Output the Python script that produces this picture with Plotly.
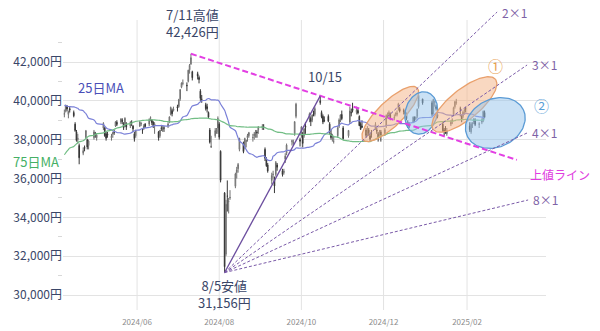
import numpy as np
import pandas as pd
import plotly.graph_objects as go

# ---------------- data ----------------
trading_days = [
    ("2024-04", [8, 9, 10, 11, 12, 15, 16, 17, 18, 19, 22, 23, 24, 25, 26, 30]),
    ("2024-05", [1, 2, 7, 8, 9, 10, 13, 14, 15, 16, 17, 20, 21, 22, 23, 24, 27, 28, 29, 30, 31]),
    ("2024-06", [3, 4, 5, 6, 7, 10, 11, 12, 13, 14, 17, 18, 19, 20, 21, 24, 25, 26, 27, 28]),
    ("2024-07", [1, 2, 3, 4, 5, 8, 9, 10, 11, 12, 16, 17, 18, 19, 22, 23, 24, 25, 26, 29, 30, 31]),
    ("2024-08", [1, 2, 5, 6, 7, 8, 9, 13, 14, 15, 16, 19, 20, 21, 22, 23, 26, 27, 28, 29, 30]),
    ("2024-09", [2, 3, 4, 5, 6, 9, 10, 11, 12, 13, 17, 18, 19, 20, 24, 25, 26, 27, 30]),
    ("2024-10", [1, 2, 3, 4, 7, 8, 9, 10, 11, 15, 16, 17, 18, 21, 22, 23, 24, 25, 28, 29, 30, 31]),
    ("2024-11", [1, 5, 6, 7, 8, 11, 12, 13, 14, 15, 18, 19, 20, 21, 22, 25, 26, 27, 28, 29]),
    ("2024-12", [2, 3, 4, 5, 6, 9, 10, 11, 12, 13, 16, 17, 18, 19, 20, 23, 24, 25, 26, 27, 30]),
    ("2025-01", [6, 7, 8, 9, 10, 14, 15, 16, 17, 20, 21, 22, 23, 24, 27, 28, 29, 30, 31]),
    ("2025-02", [3, 4, 5, 6, 7, 10, 12, 13, 14]),
]

opens = [
    39300, 39500, 39700, 39300, 39600, 39400, 38800, 38400, 38000, 37700, 37300, 37600, 38100, 38000, 37700, 38100,
    38300, 38100, 38600, 38600, 38300, 38300, 38100, 38300, 38400, 38700, 38900, 38900, 39000, 38800, 38700, 38800, 38700, 38900, 38700, 38300, 38200,
    38700, 38800, 38500, 38600, 38800, 38800, 39100, 39000, 38900, 38700, 38400, 38200, 38600, 38500, 38600, 38700, 38900, 39300, 39500, 39500,
    39700, 39700, 40100, 40700, 40900, 40800, 41000, 41600, 41900, 41500, 41400, 41200, 40500, 40100, 39800, 39700, 39400, 38500, 37600, 38200, 38400, 38600,
    38800, 37400, 35250, 32100, 35100, 34800, 35000, 35600, 36300, 36500, 37500, 37800, 37600, 37900, 38100, 38200, 38100, 38200, 38300, 38400, 38500,
    38600, 38700, 37500, 37000, 36700, 35900, 36200, 36000, 36200, 36700, 36400, 36300, 37000, 37300, 37900, 37800, 38300, 39200, 38000,
    38200, 38300, 38200, 38700, 39100, 39100, 39000, 39400, 39300, 40000, 39400, 39200, 39000, 39200, 38800, 38300, 38100, 37900, 38200, 38700, 39100, 39300,
    38600, 38200, 38900, 39400, 39600, 39400, 39500, 39200, 38800, 38700, 38500, 38300, 38500, 38200, 38300, 38600, 38500, 38300, 38200, 38400,
    38300, 38700, 39200, 39300, 39300, 39100, 39300, 39300, 39600, 39600, 39500, 39400, 39300, 38900, 38800, 38900, 39100, 39100, 39200, 39700, 40100,
    39900, 39400, 39900, 39700, 39300, 38800, 38500, 38600, 38300, 38800, 38900, 39300, 39700, 39900, 39600, 39200, 39200, 39500, 39600,
    38700, 38400, 38800, 38900, 39000, 38800, 38900, 39000, 39400,
]
highs = [
    39550, 39800, 39780, 39500, 39700, 39500, 38900, 38500, 38300, 37800, 37600, 37700, 38500, 38050, 38000, 38500,
    38400, 38300, 38900, 38650, 38400, 38400, 38300, 38400, 38500, 38950, 39000, 39100, 39100, 38900, 39150, 38900, 38950, 39000, 38750, 38400, 38500,
    38950, 38900, 38600, 38800, 38850, 39100, 39200, 39050, 38950, 38900, 38450, 38500, 38700, 38700, 38700, 38900, 39200, 39700, 39600, 39700,
    39800, 40100, 40600, 40950, 41100, 40950, 41600, 41900, 42426, 41550, 41500, 41300, 40600, 40300, 39900, 39850, 39450, 38600, 38200, 38600, 38600, 39200,
    38900, 37450, 35300, 34900, 35900, 35000, 35400, 36300, 36600, 36800, 38100, 37900, 38100, 38000, 38300, 38400, 38300, 38400, 38500, 38500, 38700,
    38800, 38800, 37600, 37100, 36800, 36300, 36400, 36100, 36900, 36800, 36500, 36500, 37300, 37800, 38000, 38000, 38950, 39900, 38100,
    38700, 38400, 38600, 38900, 39400, 39200, 39300, 39500, 39700, 40257, 39500, 39300, 39200, 39300, 38900, 38500, 38300, 38200, 38700, 39100, 39300, 39500,
    38700, 38500, 39700, 39600, 39900, 39700, 39600, 39250, 38900, 39000, 38600, 38700, 38600, 38300, 38500, 38900, 38600, 38400, 38500, 38500,
    38600, 39300, 39400, 39500, 39400, 39300, 39400, 39500, 39900, 39700, 39600, 39500, 39400, 39000, 38900, 39200, 39200, 39200, 39600, 40400, 40100,
    40000, 40100, 40000, 39800, 39400, 38900, 38600, 38700, 38600, 39000, 39100, 39700, 40000, 40100, 39700, 39300, 39500, 39600, 39700,
    38900, 38900, 38900, 39100, 39100, 38900, 39100, 39500, 39500,
]
lows = [
    39150, 39400, 39450, 39100, 39400, 39150, 38400, 37900, 37800, 36733, 37200, 37400, 38050, 37500, 37500, 38000,
    38100, 37950, 38500, 38150, 37950, 38100, 37950, 38100, 38250, 38650, 38700, 38800, 38800, 38500, 38650, 38500, 38600, 38700, 38400, 37900, 38100,
    38650, 38700, 38300, 38500, 38600, 38700, 38950, 38750, 38600, 38300, 37950, 38100, 38450, 38400, 38400, 38600, 38850, 39250, 39200, 39450,
    39450, 39650, 40000, 40650, 40800, 40500, 40950, 41400, 41850, 41050, 41100, 40900, 40000, 39900, 39500, 39400, 39100, 37800, 37600, 38100, 38300, 38300,
    38000, 35800, 31156, 32000, 34300, 34200, 34900, 35500, 36000, 36300, 37400, 37300, 37500, 37600, 37900, 38100, 37900, 38000, 38100, 38100, 38300,
    38500, 38500, 36900, 36600, 36300, 35700, 36000, 35250, 36100, 36400, 36100, 36200, 36800, 37200, 37700, 37700, 38200, 39100, 37650,
    38100, 37600, 38100, 38300, 38900, 38700, 38900, 39200, 39200, 39800, 39100, 38800, 38900, 38900, 38300, 38000, 37900, 37800, 38100, 38600, 38900, 39000,
    38000, 38100, 38800, 39200, 39400, 39300, 39300, 38700, 38500, 38600, 38100, 38200, 38200, 37900, 38100, 38500, 38300, 37900, 38100, 37900,
    38200, 38600, 39100, 39200, 39000, 39000, 39200, 39200, 39500, 39400, 39300, 39300, 39000, 38600, 38600, 38850, 38900, 39000, 39100, 39600, 39800,
    39200, 39300, 39700, 39500, 39100, 38400, 38200, 38300, 38200, 38700, 38800, 39200, 39600, 39800, 39200, 38900, 39100, 39300, 39400,
    38400, 38300, 38600, 38800, 38700, 38600, 38800, 38900, 39100,
]
closes = [
    39347, 39773, 39581, 39442, 39523, 39232, 38471, 37961, 38079, 37068, 37438, 37552, 38460, 37628, 37934, 38405,
    38274, 38236, 38835, 38202, 38073, 38229, 38179, 38356, 38385, 38920, 38787, 39069, 38946, 38617, 39103, 38646, 38900, 38855, 38556, 38054, 38487,
    38923, 38837, 38490, 38703, 38683, 39038, 39134, 38877, 38720, 38814, 38102, 38482, 38570, 38633, 38596, 38804, 39173, 39667, 39341, 39583,
    39631, 40074, 40580, 40913, 40912, 40780, 41580, 41831, 42224, 41190, 41275, 41097, 40126, 40063, 39599, 39594, 39154, 37869, 37667, 38468, 38525, 39101,
    38126, 35909, 31458, 34675, 35089, 34831, 35025, 36232, 36442, 36726, 38062, 37388, 38062, 37951, 38211, 38364, 38110, 38288, 38371, 38362, 38647,
    38700, 38686, 37047, 36657, 36391, 36159, 36215, 35619, 36833, 36581, 36203, 36380, 37155, 37723, 37940, 37870, 38925, 39829, 37919,
    38651, 37808, 38552, 38635, 39332, 38937, 39277, 39380, 39605, 39910, 39180, 38911, 38981, 38954, 38411, 38104, 38143, 37913, 38605, 39027, 39277, 39081,
    38053, 38474, 39480, 39381, 39500, 39533, 39376, 38721, 38536, 38642, 38220, 38414, 38352, 38026, 38283, 38780, 38442, 38134, 38349, 38208,
    38513, 39248, 39276, 39395, 39091, 39160, 39367, 39372, 39849, 39470, 39457, 39364, 39081, 38813, 38701, 39161, 39036, 39130, 39568, 40281, 39894,
    39307, 40083, 39981, 39605, 39190, 38474, 38444, 38572, 38451, 38902, 39027, 39646, 39958, 39931, 39565, 39016, 39415, 39513, 39572,
    38520, 38798, 38831, 39066, 38787, 38801, 38963, 39461, 39149,
]
# closes before the visible window (2023-12-15 .. 2024-04-05), used only for the moving averages
history_closes = [
    32970, 32758, 33219, 33675, 33140, 33169, 33255, 33305, 33681, 33540, 33464,
    33288, 33377, 33763, 34441, 35049, 35577, 35901, 35619, 35477, 35466, 35963, 36546, 36517, 36226, 36236, 35751, 36026, 36066, 36286,
    36011, 36158, 36354, 36160, 36119, 36863, 36897, 37963, 37703, 38157, 38487, 38470, 38363, 38262, 39098, 39233, 39239, 39208, 39166,
    39910, 40109, 40097, 40090, 39598, 39688, 38820, 38797, 38695, 38807, 38707, 39740, 40003, 40815, 40888, 40414, 40398, 40762, 40168, 40369,
    39803, 39838, 39451, 39773, 38992,
]
ma_windows = [25, 75]
ma_labels = ["25日MA", "75日MA"]

x_tick_dates = ["2024-06-01", "2024-08-01", "2024-10-01", "2024-12-01", "2025-02-01"]
y_tick_values = [30000, 32000, 34000, 36000, 38000, 40000, 42000]
y_minor_values = [31000, 33000, 35000, 37000, 39000, 41000, 43000]

high_label = ("2024-07-11", 42426)
low_label = ("2024-08-05", 31156)
oct_label = ("2024-10-15", 40257)

# Gann fan: from 8/5 low; 1x1 goes to the 10/15 high, others hand-drawn endpoints
gann_names = ["1×1", "2×1", "3×1", "4×1", "8×1"]
gann_end_dates = ["2024-10-15", "2025-02-23 08:00", "2025-03-17 14:00", "2025-03-17 14:00", "2025-03-18 08:00"]
gann_end_values = [40257, 44575, 41846, 38344, 34894]

# resistance line (上値ライン) through the 7/11 and 10/15 highs
resist_dates = ["2024-07-11", "2024-10-15"]
resist_values = [42426, 40257]
resist_end_date = "2025-03-10"

# ellipses highlighting patterns
ell_dates = ["2024-12-06", "2024-12-29", "2025-01-30", "2025-02-22"]
ell_values = [39322, 39374, 39812, 38859]
ell_major_px = [37.5, 21.5, 40, 31]
ell_minor_px = [12.5, 16, 15, 24]
ell_angle = [44, 75, 39, 25]
ell_kind = ["orange", "blue", "orange", "blue"]

# ---------------- build ----------------
dates = [pd.Timestamp(f"{m}-{d:02d}") for m, days in trading_days for d in days]
n = len(dates)
assert n == len(opens) == len(highs) == len(lows) == len(closes), (n, len(opens), len(highs), len(lows), len(closes))

all_closes = pd.Series(history_closes + closes, dtype=float)
mas = [all_closes.rolling(w).mean().iloc[-n:].tolist() for w in ma_windows]

W, H = 600, 331
ML, MR, MT, MB = 63, 54, 10, 21
X0, X1 = ML, W - MR
Y0, Y1 = MT, H - MB
XR0, XR1 = pd.Timestamp("2024-04-07"), pd.Timestamp("2025-03-31 15:00")
YR0, YR1 = 29228, 44678


def inv_x(px):
    return XR0 + (px - X0) / (X1 - X0) * (XR1 - XR0)


def inv_y(py):
    return YR0 + (Y1 - py) / (Y1 - Y0) * (YR1 - YR0)


def to_px(d, v):
    d = pd.Timestamp(d)
    return (X0 + (d - XR0) / (XR1 - XR0) * (X1 - X0),
            Y1 - (v - YR0) / (YR1 - YR0) * (Y1 - Y0))


def paper(px, py):
    return (px - X0) / (X1 - X0), (Y1 - py) / (Y1 - Y0)


fig = go.Figure()

fig.add_trace(go.Candlestick(
    x=dates, open=opens, high=highs, low=lows, close=closes,
    increasing=dict(line=dict(color="#707070", width=1), fillcolor="#f4f4f4"),
    decreasing=dict(line=dict(color="#363636", width=1), fillcolor="#404040"),
    whiskerwidth=0, hoverinfo="skip",
))

ma_colors = ["#7a80d8", "#72be85"]
for vals, col in zip(mas, ma_colors):
    fig.add_trace(go.Scatter(x=dates, y=vals, mode="lines", line=dict(color=col, width=1.2, shape="spline"),
                             hoverinfo="skip"))

# ellipses
ell_style = {
    "orange": dict(fill="rgba(244,178,132,0.50)", line="#e9a06c"),
    "blue": dict(fill="rgba(150,195,235,0.50)", line="#5b9bd5"),
}
t = np.linspace(0, 2 * np.pi, 121)
for d, v, a, b, ang, kind in zip(ell_dates, ell_values, ell_major_px, ell_minor_px, ell_angle, ell_kind):
    cx, cy = to_px(d, v)
    th = np.deg2rad(ang)
    ex = cx + a * np.cos(t) * np.cos(th) - b * np.sin(t) * np.sin(th)
    ey = cy - (a * np.cos(t) * np.sin(th) + b * np.sin(t) * np.cos(th))
    st = ell_style[kind]
    fig.add_trace(go.Scatter(x=[inv_x(p) for p in ex], y=[inv_y(p) for p in ey], mode="lines",
                             fill="toself", fillcolor=st["fill"], line=dict(color=st["line"], width=1.3),
                             hoverinfo="skip"))

# resistance line
r0, r1 = pd.Timestamp(resist_dates[0]), pd.Timestamp(resist_dates[1])
slope = (resist_values[1] - resist_values[0]) / ((r1 - r0) / pd.Timedelta(days=1))
r_end = pd.Timestamp(resist_end_date)
r_end_val = resist_values[0] + slope * ((r_end - r0) / pd.Timedelta(days=1))
fig.add_trace(go.Scatter(x=[r0, r_end], y=[resist_values[0], r_end_val], mode="lines",
                         line=dict(color="#e33fe3", width=2, dash="6px,3px"), hoverinfo="skip"))

# Gann fan
for i, (name, ed, ev) in enumerate(zip(gann_names, gann_end_dates, gann_end_values)):
    solid = i == 0
    fig.add_trace(go.Scatter(x=[pd.Timestamp(low_label[0]), pd.Timestamp(ed)], y=[low_label[1], ev], mode="lines",
                             line=dict(color="#6b4d9e" if solid else "#7a5aa8", width=1.3 if solid else 1,
                                       dash="solid" if solid else "3px,2px"),
                             hoverinfo="skip"))

FONT = "Noto Sans CJK JP, Noto Sans, sans-serif"
TXT = "#3a4668"
ann = []
ann.append(dict(x=pd.Timestamp(high_label[0]), y=high_label[1], xref="x", yref="y",
                text=f"7/11高値<br>{high_label[1]:,}円", showarrow=False, yanchor="bottom", yshift=11, xshift=2,
                font=dict(size=13, color=TXT, family=FONT)))
ann.append(dict(x=pd.Timestamp(low_label[0]), y=low_label[1], xref="x", yref="y",
                text=f"8/5安値<br>{low_label[1]:,}円", showarrow=False, yanchor="top", yshift=-1,
                font=dict(size=13, color=TXT, family=FONT)))
ann.append(dict(x=pd.Timestamp(oct_label[0]), y=oct_label[1], xref="x", yref="y",
                text="10/15", showarrow=False, yanchor="bottom", yshift=8, xshift=5,
                font=dict(size=13, color=TXT, family=FONT)))
for name, ed, ev in zip(gann_names[1:], gann_end_dates[1:], gann_end_values[1:]):
    ann.append(dict(x=pd.Timestamp(ed), y=ev, xref="x", yref="y", text=name, showarrow=False,
                    xanchor="left", xshift=3, font=dict(size=12, color="#7e62a6", family=FONT)))

for text, (px, py), col, size in [
    ("25日MA", (101, 87), "#4a4fb8", 13),
    ("75日MA", (36, 162), "#45b065", 13),
    ("上値ライン", (560, 174), "#e03de0", 12),
    ("①", (495, 65), "#e8a050", 15),
    ("②", (541, 106), "#5aa0d8", 15),
]:
    xp, yp = paper(px, py)
    ann.append(dict(x=xp, y=yp, xref="paper", yref="paper", text=text, showarrow=False,
                    xanchor="center", yanchor="middle", font=dict(size=size, color=col, family=FONT)))

grid_top = paper(0, 20)[1]
shapes = [dict(type="line", xref="x", yref="paper", x0=d, x1=d, y0=0, y1=grid_top,
               line=dict(color="#e3e3e3", width=1), layer="below") for d in x_tick_dates]

fig.update_layout(
    width=W, height=H, margin=dict(l=ML, r=MR, t=MT, b=MB, autoexpand=False),
    plot_bgcolor="white", paper_bgcolor="white", showlegend=False,
    font=dict(family=FONT),
    annotations=ann, shapes=shapes,
    xaxis=dict(type="date", range=[XR0, XR1], showgrid=False, zeroline=False, showline=False,
               tickvals=x_tick_dates, ticktext=[pd.Timestamp(d).strftime("%Y/%m") for d in x_tick_dates],
               ticks="", ticklabelstandoff=6, automargin=False,
               tickfont=dict(size=8, color="#8c8c8c"), rangeslider=dict(visible=False), fixedrange=True),
    yaxis=dict(range=[YR0, YR1], tickvals=y_tick_values, ticktext=[f"{v:,}円" for v in y_tick_values],
               showgrid=True, gridcolor="#e3e3e3", zeroline=False, showline=False, ticks="", automargin=False,
               tickfont=dict(size=12, color=TXT),
               minor=dict(tickvals=y_minor_values, ticks="outside", ticklen=4, tickcolor="#d8d8d8")),
)

fig.write_html("out.html")
